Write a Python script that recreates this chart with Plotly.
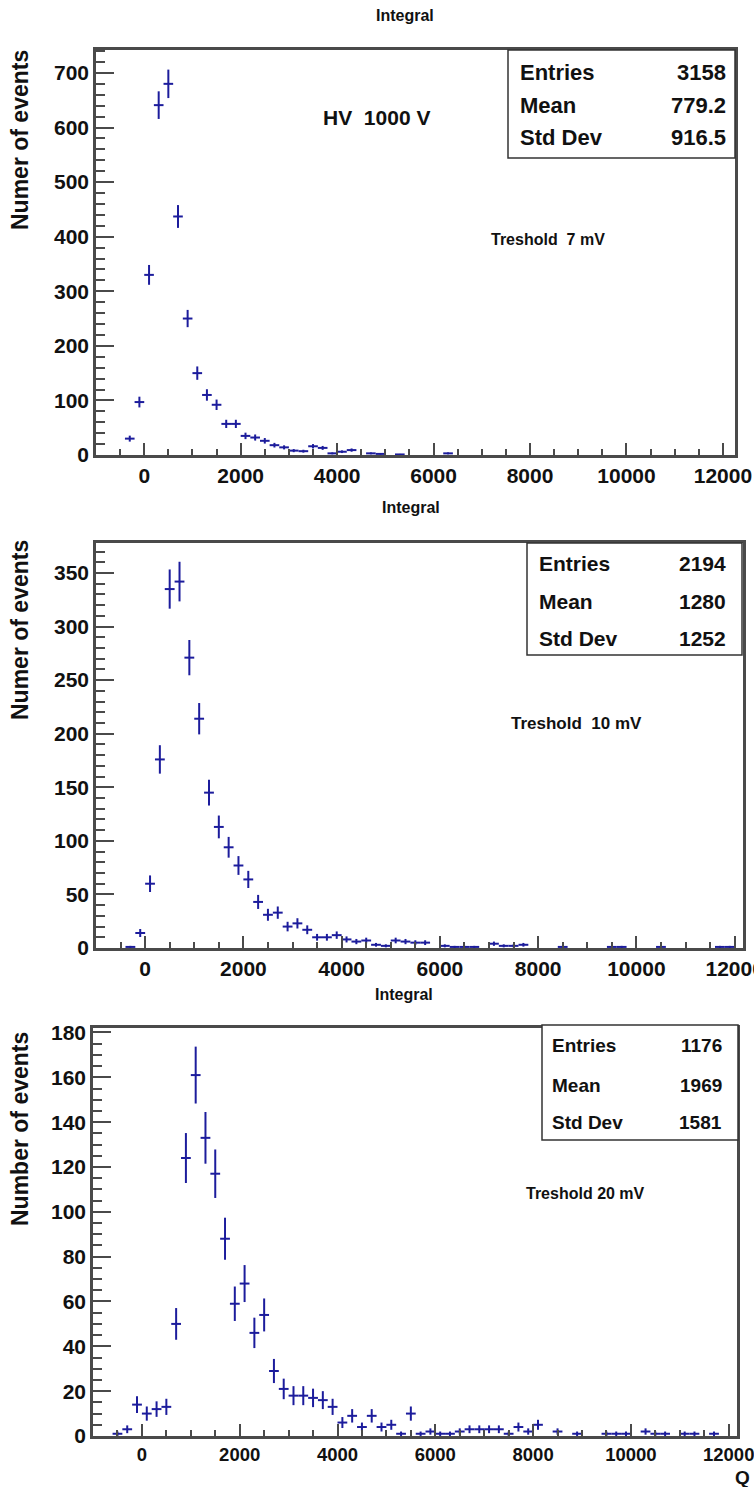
import numpy as np
import plotly.graph_objects as go

W, H = 754, 1487

# ---------------- data (bin centers, counts; bin width 200) ----------------
centers1 = [-300, -100, 100, 300, 500, 700, 900, 1100, 1300, 1500, 1700, 1900, 2100, 2300,
            2500, 2700, 2900, 3100, 3300, 3500, 3700, 3900, 4100, 4300, 4700, 4900, 5300, 6300]
counts1 = [30, 97, 330, 641, 680, 437, 250, 150, 110, 92, 57, 57, 35, 32,
           26, 18, 14, 8, 7, 16, 13, 3, 6, 9, 3, 2, 1, 3]

centers2 = [-300, -100, 100, 300, 500, 700, 900, 1100, 1300, 1500, 1700, 1900, 2100, 2300,
            2500, 2700, 2900, 3100, 3300, 3500, 3700, 3900, 4100, 4300, 4500, 4700, 4900,
            5100, 5300, 5500, 5700, 6100, 6300, 6500, 6700, 7100, 7300, 7500, 7700, 8500,
            9500, 9700, 10500, 11700, 11900]
counts2 = [1, 14, 60, 176, 335, 342, 271, 214, 145, 113, 94, 77, 64, 43,
           31, 33, 20, 23, 17, 10, 10, 12, 8, 6, 7, 3, 2,
           7, 6, 5, 5, 2, 1, 1, 1, 4, 2, 2, 3, 1,
           1, 1, 1, 1, 1]

centers3 = [-500, -300, -100, 100, 300, 500, 700, 900, 1100, 1300, 1500, 1700, 1900, 2100,
            2300, 2500, 2700, 2900, 3100, 3300, 3500, 3700, 3900, 4100, 4300, 4500, 4700,
            4900, 5100, 5300, 5500, 5700, 5900, 6100, 6300, 6500, 6700, 6900, 7100, 7300,
            7500, 7700, 7900, 8100, 8500, 8900, 9500, 9700, 9900, 10300, 10500, 10700,
            11100, 11300, 11700]
counts3 = [1, 3, 14, 10, 12, 13, 50, 124, 161, 133, 117, 88, 59, 68,
           46, 54, 29, 21, 18, 18, 17, 16, 13, 6, 9, 4, 9,
           4, 5, 1, 10, 1, 2, 1, 1, 2, 3, 3, 3, 3,
           1, 4, 2, 5, 2, 1, 1, 1, 1, 2, 1, 1,
           1, 1, 1]

bin_half = 100

stats1 = [("Entries", "3158"), ("Mean", "779.2"), ("Std Dev", "916.5")]
stats2 = [("Entries", "2194"), ("Mean", "1280"), ("Std Dev", "1252")]
stats3 = [("Entries", "1176"), ("Mean", "1969"), ("Std Dev", "1581")]

x_ticks = [0, 2000, 4000, 6000, 8000, 10000, 12000]

# ---------------- helpers ----------------
def px(x):
    return x / W

def py(y):
    return 1 - y / H

FONT = "Liberation Sans, Arial, Helvetica, sans-serif"
BLUE = "#1c1c9c"
FRAME = "#4a4a4a"

fig = go.Figure()

panels = [
    dict(c=centers1, n=counts1, xd=(96, 735), yd=(50, 455), xr=[-1000, 12250], yr=[0, 742],
         ydt=100, ymin=20, ytitle="Numer of events", ytop=48, xfs=21,
         title_xy=(405, 15), notes=[("HV\u00a0\u00a01000\u00a0V", 376, 117, 21),
                                    ("Treshold\u00a0\u00a07\u00a0mV", 548, 239, 16)],
         box=(508, 50, 735, 158), sl=518, sr=728, sy=[72, 105, 138], stats=stats1, sfs=22),
    dict(c=centers2, n=counts2, xd=(96, 743), yd=(543, 948), xr=[-1000, 12170], yr=[0, 378],
         ydt=50, ymin=10, ytitle="Numer of events", ytop=538, xfs=21,
         title_xy=(411, 507), notes=[("Treshold\u00a0\u00a010\u00a0mV", 576, 723, 17)],
         box=(527, 543, 742, 655), sl=537, sr=728, sy=[563, 601, 638], stats=stats2, sfs=21),
    dict(c=centers3, n=counts3, xd=(93, 737), yd=(1028, 1436), xr=[-1000, 12170], yr=[0, 182],
         ydt=20, ymin=5, ytitle="Number of events", ytop=1030, xfs=18.5,
         title_xy=(404, 994), notes=[("Treshold\u00a020\u00a0mV", 585, 1193, 16)],
         box=(542, 1025, 738, 1140), sl=550, sr=724, sy=[1045, 1085, 1122], stats=stats3, sfs=19),
]

annotations = []
shapes = []

for i, p in enumerate(panels, start=1):
    sfx = "" if i == 1 else str(i)
    n = np.array(p["n"], dtype=float)
    fig.add_trace(go.Scatter(
        x=p["c"], y=p["n"], mode="markers",
        marker=dict(size=0.1, color=BLUE),
        error_x=dict(type="constant", value=bin_half, thickness=2, width=0, color=BLUE),
        error_y=dict(type="data", array=np.sqrt(n), thickness=2, width=0, color=BLUE),
        xaxis="x" + sfx, yaxis="y" + sfx, showlegend=False, hoverinfo="skip"))

    fig.update_layout({
        "xaxis" + sfx: dict(
            domain=[px(p["xd"][0]), px(p["xd"][1])], range=p["xr"], anchor="y" + sfx,
            automargin=False, ticklabeloverflow="allow",
            tickmode="array", tickvals=x_ticks, ticktext=[str(v) for v in x_ticks],
            ticks="inside", ticklen=12, tickwidth=1.5, tickcolor=FRAME,
            minor=dict(dtick=500, tick0=0, ticks="inside", ticklen=6, tickwidth=1.5, tickcolor=FRAME),
            showline=True, mirror=True, linecolor=FRAME, linewidth=2.5,
            showgrid=False, zeroline=False,
            tickfont=dict(family=FONT, size=p["xfs"], color="#111", weight="bold")),
        "yaxis" + sfx: dict(
            domain=[py(p["yd"][1]), py(p["yd"][0])], range=p["yr"], anchor="x" + sfx,
            automargin=False, ticklabeloverflow="allow",
            dtick=p["ydt"], tick0=0,
            ticks="inside", ticklen=18, tickwidth=1.5, tickcolor=FRAME,
            minor=dict(dtick=p["ymin"], tick0=0, ticks="inside", ticklen=9, tickwidth=1.5, tickcolor=FRAME),
            showline=True, mirror=True, linecolor=FRAME, linewidth=2.5,
            showgrid=False, zeroline=False,
            tickfont=dict(family=FONT, size=21, color="#111", weight="bold")),
    })

    # title
    annotations.append(dict(text="Integral", x=px(p["title_xy"][0]), y=py(p["title_xy"][1]),
                            xref="paper", yref="paper", showarrow=False,
                            xanchor="center", yanchor="middle",
                            font=dict(family=FONT, size=16, color="#111", weight="bold")))
    # y title
    annotations.append(dict(text=p["ytitle"], x=px(20), y=py(p["ytop"]),
                            xref="paper", yref="paper", showarrow=False, textangle=-90,
                            xanchor="center", yanchor="top",
                            font=dict(family=FONT, size=23, color="#111", weight="bold")))
    # notes
    for t, x, y, fs in p["notes"]:
        annotations.append(dict(text=t, x=px(x), y=py(y), xref="paper", yref="paper",
                                showarrow=False, xanchor="center", yanchor="middle",
                                font=dict(family=FONT, size=fs, color="#111", weight="bold")))
    # stats box
    x0, y0, x1, y1 = p["box"]
    shapes.append(dict(type="rect", xref="paper", yref="paper",
                       x0=px(x0), x1=px(x1), y0=py(y1), y1=py(y0),
                       line=dict(color="#333", width=1.5), fillcolor="white", layer="above"))
    for (lab, val), yy in zip(p["stats"], p["sy"]):
        annotations.append(dict(text=lab, x=px(p["sl"]), y=py(yy), xref="paper", yref="paper",
                                showarrow=False, xanchor="left", yanchor="middle",
                                font=dict(family=FONT, size=p["sfs"], color="#111", weight="bold")))
        annotations.append(dict(text=val, x=px(p["sr"]), y=py(yy), xref="paper", yref="paper",
                                showarrow=False, xanchor="right", yanchor="middle",
                                font=dict(family=FONT, size=p["sfs"], color="#111", weight="bold")))

annotations.append(dict(text="Q", x=px(742), y=py(1477), xref="paper", yref="paper",
                        showarrow=False, xanchor="center", yanchor="middle",
                        font=dict(family=FONT, size=19, color="#111", weight="bold")))

fig.update_layout(template="none", width=W, height=H, autosize=False,
                  margin=dict(l=0, r=0, t=0, b=0, pad=0),
                  paper_bgcolor="white", plot_bgcolor="white",
                  annotations=annotations, shapes=shapes)

fig.write_html("out.html", config={"displayModeBar": False},
               post_script="document.body.style.margin='0';document.body.style.overflow='hidden';")
